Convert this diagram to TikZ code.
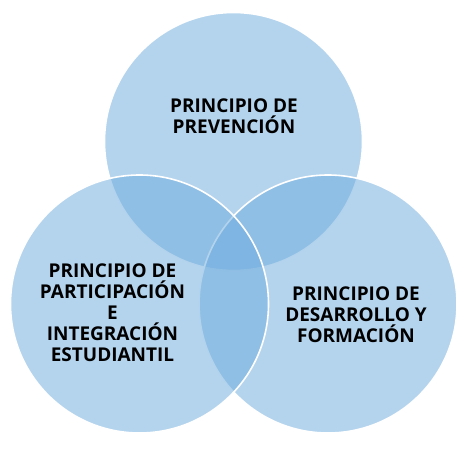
\documentclass[tikz,border=0pt]{standalone}
\usepackage{fontspec}
\setmainfont{Open Sans}
\definecolor{vennblue}{RGB}{111,172,222}
\begin{document}
\begin{tikzpicture}[x=1pt,y=-1pt,
  venn/.style={circle, minimum size=258pt, inner sep=0pt, fill=vennblue, fill opacity=0.52, draw=white, line width=1.6pt},
  lbl/.style={align=center, font=\fontsize{19}{21}\selectfont\bfseries, text=black}]
\useasboundingbox (0,0) rectangle (474,450);
\node[venn] (top) at (233.5,141.5) {};
\node[venn] (right) at (328,304) {};
\node[venn] (left) at (139.5,304) {};
\node[lbl] (ttop) at (234,116) {PRINCIPIO DE\\PREVENCIÓN};
\node[lbl] (tleft) at (112.5,313) {PRINCIPIO DE\\PARTICIPACIÓN\\E\\INTEGRACIÓN\\ESTUDIANTIL};
\node[lbl] (tright) at (356,315) {PRINCIPIO DE\\DESARROLLO Y\\FORMACIÓN};
\end{tikzpicture}
\end{document}
